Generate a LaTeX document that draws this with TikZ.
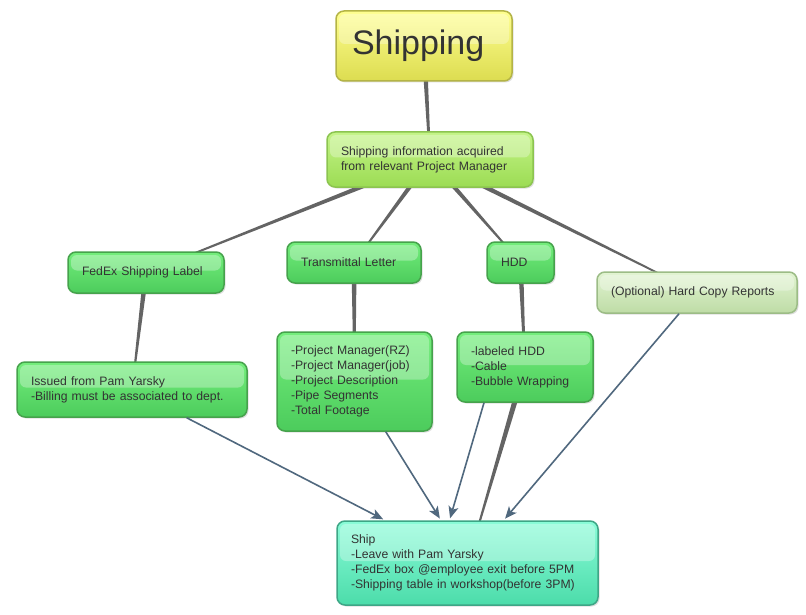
\documentclass[tikz,border=0pt]{standalone}
\usepackage{fontspec}
\setmainfont{Liberation Sans}
\usetikzlibrary{shapes,arrows,arrows.meta,positioning,calc,shadows,backgrounds}
\definecolor{textgray}{HTML}{333333}
\definecolor{wire}{HTML}{646464}
\definecolor{arrowblue}{HTML}{50687E}
\definecolor{titletop}{HTML}{FFFF90}
\definecolor{titlebottom}{HTML}{DCDC50}
\definecolor{titleborder}{HTML}{B4B446}
\definecolor{infotop}{HTML}{C4F488}
\definecolor{infobottom}{HTML}{9CDC54}
\definecolor{infoborder}{HTML}{8CC450}
\definecolor{itemtop}{HTML}{74EE7C}
\definecolor{itembottom}{HTML}{4CCC5C}
\definecolor{itemborder}{HTML}{46A24C}
\definecolor{opttop}{HTML}{E2F4D2}
\definecolor{optbottom}{HTML}{BEDCA6}
\definecolor{optborder}{HTML}{9CBC86}
\definecolor{shiptop}{HTML}{8AFCD8}
\definecolor{shipbottom}{HTML}{4CDCAA}
\definecolor{shipborder}{HTML}{3EA686}
\tikzstyle{every node}=[font=\fontsize{12.2}{15}\selectfont]
\tikzstyle{topic} = [rectangle, draw, rounded corners=8pt, line width=1.5pt,
    align=left, inner xsep=14pt, inner ysep=3pt, text=textgray,
    drop shadow={shadow xshift=1.5pt, shadow yshift=-1.5pt, opacity=0.25},
    path picture={\fill[white, opacity=0.3, rounded corners=6pt]
      ([xshift=3pt,yshift=-3pt]path picture bounding box.north west) rectangle
      ([xshift=-3pt,yshift=2pt]path picture bounding box.east);}]
\tikzstyle{titlebox} = [topic, draw=titleborder, top color=titletop, bottom color=titlebottom,
    font=\fontsize{34}{40}\selectfont, inner xsep=16pt]
\tikzstyle{infobox} = [topic, draw=infoborder, top color=infotop, bottom color=infobottom]
\tikzstyle{itembox} = [topic, draw=itemborder, top color=itemtop, bottom color=itembottom]
\tikzstyle{optbox} = [topic, draw=optborder, top color=opttop, bottom color=optbottom]
\tikzstyle{shipbox} = [topic, draw=shipborder, top color=shiptop, bottom color=shipbottom]
\tikzstyle{feed} = [draw=arrowblue, line width=1.6pt, shorten >=2pt,
    -{Stealth[length=12pt, width=10pt, inset=3pt]}]
\tikzstyle{taper} = [fill=wire]
\newcommand{\taper}[4]{\fill[taper] ($(#1)!#3!90:(#2)$) -- ($(#2)!#4!-90:(#1)$)
    -- ($(#2)!#4!90:(#1)$) -- ($(#1)!#3!-90:(#2)$) -- cycle;}

\begin{document}
\begin{tikzpicture}[x=1pt, y=-1pt]
	\useasboundingbox (0,0) rectangle (806,615);
	% Place nodes
	\node [titlebox, text width=144pt, minimum height=70pt] (title) at (424,46) {Shipping};
	\node [infobox, text width=178pt, minimum height=55pt, below of=title, node distance=113.5pt, xshift=6pt] (info)
	  {Shipping information acquired\\from relevant Project Manager};
	\node [itembox, text width=106pt, minimum height=41pt, below of=info, node distance=103pt, xshift=-76pt] (letter) {Transmittal Letter};
	\node [itembox, text width=128pt, minimum height=41pt, left of=letter, node distance=208pt, yshift=-10pt] (fedex) {FedEx Shipping Label};
	\node [itembox, text width=39pt, minimum height=41pt, right of=letter, node distance=166.5pt] (hdd) {HDD};
	\node [optbox, text width=172pt, minimum height=41pt, right of=hdd, node distance=176.5pt, yshift=-30pt] (reports) {(Optional) Hard Copy Reports};
	\node [itembox, text width=202pt, minimum height=55pt, below of=fedex, node distance=117pt, xshift=-14pt] (issued)
	  {Issued from Pam Yarsky\\-Billing must be associated to dept.};
	\node [itembox, text width=127pt, minimum height=99pt, below of=letter, node distance=119pt, xshift=0.5pt] (pmlist)
	  {-Project Manager(RZ)\\-Project Manager(job)\\-Project Description\\-Pipe Segments\\-Total Footage};
	\node [itembox, text width=108pt, minimum height=70pt, below of=hdd, node distance=104.5pt, xshift=4.5pt] (hddlist)
	  {-labeled HDD\\-Cable\\-Bubble Wrapping};
	\node [shipbox, text width=233pt, minimum height=84pt, below of=pmlist, node distance=181.5pt, xshift=113pt] (ship)
	  {Ship\\-Leave with Pam Yarsky\\-FedEx box @employee exit before 5PM\\-Shipping table in workshop(before 3PM)};
	% Draw edges
	\begin{scope}[on background layer]
	  \fill[white] (0,0) rectangle (806,615);
	  \taper{title}{info}{2.6pt}{1pt}
	  \taper{info}{fedex}{2.6pt}{0.6pt}
	  \taper{info}{letter}{2.6pt}{0.6pt}
	  \taper{info}{hdd}{2.6pt}{0.6pt}
	  \taper{info}{reports}{2.6pt}{0.6pt}
	  \taper{fedex}{issued}{2.6pt}{0.6pt}
	  \taper{letter}{pmlist}{2.6pt}{0.8pt}
	  \taper{hdd}{hddlist}{2.6pt}{0.8pt}
	  \taper{hddlist}{ship}{3pt}{0.5pt}
	\end{scope}
	\path [feed] (issued) -- (ship);
	\path [feed] (pmlist) -- (ship);
	\path [feed] ([xshift=-41pt]hddlist.south) -- ([xshift=-18pt]ship.north);
	\path [feed] (reports) -- (ship);
\end{tikzpicture}
\end{document}
